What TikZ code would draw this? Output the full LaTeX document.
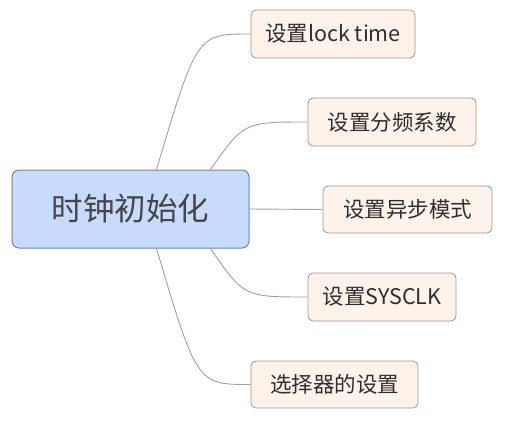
\documentclass[tikz,border=0pt]{standalone}
\usepackage{fontspec}
\setmainfont{Noto Sans CJK SC}
\definecolor{rootfill}{HTML}{C8DBFC}
\definecolor{rootdraw}{HTML}{6E84AD}
\definecolor{leaffill}{HTML}{FEF3EA}
\definecolor{leafdraw}{HTML}{A0968F}
\definecolor{linkc}{HTML}{A0A0A0}
\definecolor{txt}{HTML}{2E2E2E}
\definecolor{roottxt}{HTML}{454545}
\tikzset{
  rootbox/.style={draw=rootdraw, fill=rootfill, line width=1pt, rounded corners=7pt,
    minimum width=237pt, minimum height=78pt, inner sep=0pt, text=roottxt,
    font=\fontsize{31.5}{32}\selectfont},
  leafbox/.style={draw=leafdraw, fill=leaffill, line width=0.8pt, rounded corners=5pt,
    minimum height=48pt, inner sep=0pt, text=txt, font=\fontsize{21.5}{22}\selectfont},
  link/.style={draw=linkc, line width=0.9pt}
}
\begin{document}
\begin{tikzpicture}[x=1pt,y=-1pt]
\useasboundingbox (0,0) rectangle (511,421);
\node[rootbox] (c) at (130.5,209) {时钟初始化};
\node[leafbox, minimum width=164pt] (n1) at (333,34) {设置lock time};
\node[leafbox, minimum width=168pt] (n2) at (392,122) {设置分频系数};
\node[leafbox, minimum width=169pt, minimum height=47pt] (n3) at (407.5,209.5) {设置异步模式};
\node[leafbox, minimum width=148pt] (n4) at (382,297) {设置SYSCLK};
\node[leafbox, minimum width=167pt, minimum height=47pt] (n5) at (334.5,384.5) {选择器的设置};
\draw[link] ([xshift=145pt]c.north west) .. controls (197,34) .. (n1.west);
\draw[link] ([xshift=199pt]c.north west) .. controls (244,122) .. (n2.west);
\draw[link] (c.east) -- (n3.west);
\draw[link] ([xshift=199pt]c.south west) .. controls (244,297) .. (n4.west);
\draw[link] ([xshift=145pt]c.south west) .. controls (197,384.5) .. (n5.west);
\end{tikzpicture}
\end{document}
